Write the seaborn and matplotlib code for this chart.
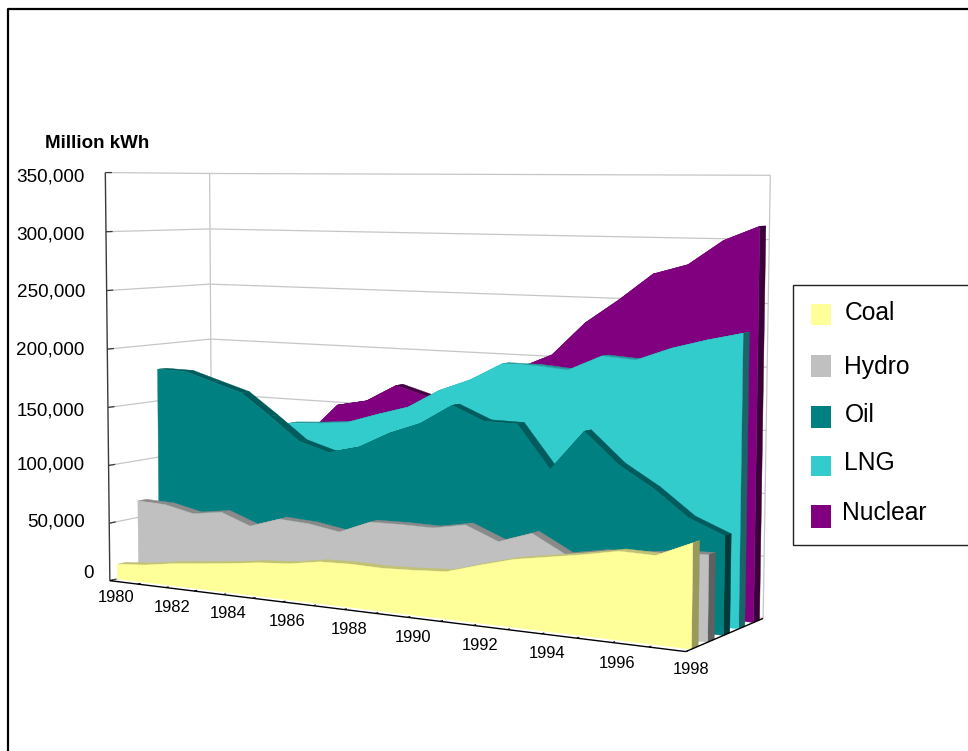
import numpy as np
import matplotlib
matplotlib.use("Agg")
import matplotlib.pyplot as plt
from matplotlib.patches import Polygon, Rectangle
import seaborn as sns

# Generation by source, million kWh
years = list(range(1980, 1999))
coal = [12800, 15000, 19000, 21800, 24800, 28200, 30200, 34600, 35500, 35000,
        36200, 38000, 46000, 53300, 57900, 62500, 67900, 67400, 79500]
hydro = [64500, 63700, 58200, 61900, 52500, 61000, 59500, 55300, 66000, 66500,
         66300, 71300, 60500, 69700, 55500, 60500, 61500, 65300, 66500]
oil = [178000, 177500, 169700, 162000, 143500, 124000, 116400, 122800, 136400, 146400,
       163000, 151800, 151500, 117000, 149300, 125000, 108600, 88000, 76800]
lng = [90000, 100000, 115000, 125000, 134800, 136500, 139200, 147800, 155600, 171100,
       181600, 196300, 196200, 194000, 206600, 204800, 215300, 223000, 229500]
nuclear = [85000, 90000, 100000, 110000, 123400, 149700, 155100, 170000, 162400, 168000,
           179000, 191000, 203000, 230300, 249900, 271500, 279600, 299200, 310700]

series_names = ["Coal", "Hydro", "Oil", "LNG", "Nuclear"]
series_values = [coal, hydro, oil, lng, nuclear]
value_ticks = [0, 50000, 100000, 150000, 200000, 250000, 300000, 350000]
year_labels = [1980, 1982, 1984, 1986, 1988, 1990, 1992, 1994, 1996, 1998]
unit_label = "Million kWh"

sns.set_theme(style="white")
plt.rcParams["font.family"] = ["Liberation Sans", "DejaVu Sans"]
palette = sns.color_palette(["#FFFF99", "#C0C0C0", "#008080", "#33CCCC", "#800080"])
top_shade = [0.76, 0.72, 0.72, 0.76, 0.55]
side_shade = [0.60, 0.50, 0.45, 0.50, 0.45]

WIDTH, HEIGHT = 968, 751
fig = plt.figure(figsize=(WIDTH / 100, HEIGHT / 100), dpi=100, facecolor="white")
ax = fig.add_axes([0, 0, 1, 1])
ax.set_xlim(0, WIDTH)
ax.set_ylim(HEIGHT, 0)
ax.axis("off")

# Camera for the box: fitted to where its corners land on the canvas.
box = np.array([(0, 0, 0), (0, 0, 1), (0, 1, 0), (0, 1, 1),
                (1, 1, 0), (1, 1, 1), (1, 0, 0), (1, 1, 6 / 7)], float)
canvas = np.array([(110, 579), (105, 173), (212, 558), (210, 173),
                   (763, 617), (770, 175), (686, 653), (769.5, 240)], float)
rows = []
for (a, b, c), (x, y) in zip(box, canvas):
    rows.append([a, b, c, 1, 0, 0, 0, 0, -x * a, -x * b, -x * c, -x])
    rows.append([0, 0, 0, 0, a, b, c, 1, -y * a, -y * b, -y * c, -y])
camera = np.linalg.svd(np.array(rows))[2][-1].reshape(3, 4)
VMAX = value_ticks[-1]


def project(year, depth, value):
    """Year, depth (0 front .. 1 back) and value to canvas position."""
    h = camera @ np.array([(year - years[0]) / (years[-1] - years[0]), depth, value / VMAX, 1.0])
    return h[:2] / h[2]


def shade(color, k):
    return tuple(c * k for c in color)


def segment(p, q, **kw):
    ax.plot([p[0], q[0]], [p[1], q[1]], solid_capstyle="butt", **kw)


def quad(points, color, z):
    ax.add_patch(Polygon(np.array(points), closed=True, facecolor=color, edgecolor=color,
                         linewidth=0.3, zorder=z))


# Walls
y0, y1 = years[0], years[-1]
grid = dict(color="#C6C6C6", lw=0.9, zorder=1)
for v in value_ticks:
    segment(project(y0, 0, v), project(y0, 1, v), **grid)
    segment(project(y0, 1, v), project(y1, 1, v), **grid)
segment(project(y0, 1, 0), project(y0, 1, VMAX), **grid)
segment(project(y1, 1, 0), project(y1, 1, VMAX), **grid)

# Areas, furthest first
for i in range(len(series_names) - 1, -1, -1):
    d0, d1 = (i + 0.34) / 5, (i + 0.75) / 5
    values = series_values[i]
    base = palette[i]
    z = 2 + (4 - i) * 3
    for k in range(len(years) - 1):
        quad([project(years[k], d0, values[k]), project(years[k + 1], d0, values[k + 1]),
              project(years[k + 1], d1, values[k + 1]), project(years[k], d1, values[k])],
             shade(base, top_shade[i]), z)
    quad([project(y1, d0, 0), project(y1, d0, values[-1]),
          project(y1, d1, values[-1]), project(y1, d1, 0)],
         shade(base, side_shade[i]), z + 1)
    face = [project(y, d0, v) for y, v in zip(years, values)]
    face += [project(y1, d0, 0), project(y0, d0, 0)]
    quad(face, base, z + 2)

# Axes
axis = dict(color="black", lw=1.0, zorder=30)
segment(project(y0, 0, 0), project(y1, 0, 0), **axis)
segment(project(y1, 0, 0), project(y1, 1, 0), **axis)
segment(project(y0, 0, 0), project(y0, 0, VMAX), color="#3A3A3A", lw=1.0, zorder=30)
for y in years:
    segment(project(y, 0, 0), project(y, 0.03, 0), color="black", lw=0.7, zorder=30)
for v in value_ticks:
    segment(project(y0, 0, v), project(y0, 0.06, v), color="#3A3A3A", lw=0.9, zorder=1.5)

# Tick labels
value_label_pos = [(94, 574), (85, 522), (84.5, 465), (85, 411), (84.5, 350), (85, 292), (84.5, 235), (84.5, 177)]
for v, (x, y) in zip(value_ticks, value_label_pos):
    ax.text(x, y, f"{v:,}", ha="right", va="center", fontsize=13.6, color="black", zorder=40)
year_label_pos = [(116, 598), (172, 608), (228, 613), (287, 622), (349, 629),
                  (413, 637), (480, 645), (547, 654), (617, 663), (691, 670)]
for year, (x, y) in zip(year_labels, year_label_pos):
    ax.text(x, y, str(year), ha="center", va="center", fontsize=11.9, color="black", zorder=40)
ax.text(45, 144, unit_label, ha="left", va="center", fontsize=13.5, fontweight="bold", color="black")

# Outer frame
ax.plot([8, 8, WIDTH], [HEIGHT, 9, 9], color="black", lw=1.6, zorder=50, clip_on=False)

# Legend
ax.add_patch(Rectangle((793, 285), 200, 260, facecolor="white", edgecolor="#222222", lw=1.0, zorder=45))
swatch_rows = [(304, 21), (355, 22), (406, 22), (456, 20), (505, 23)]
text_pos = [(845, 313), (844, 367), (845, 415), (844, 463), (842, 513)]
for name, color, (top, h), (tx, ty) in zip(series_names, palette, swatch_rows, text_pos):
    ax.add_patch(Rectangle((811, top), 20, h, facecolor=color, edgecolor="none", zorder=46))
    ax.text(tx, ty, name, ha="left", va="center", fontsize=17.7, color="black", zorder=46)

fig.savefig("out.png", dpi=100, facecolor="white")
